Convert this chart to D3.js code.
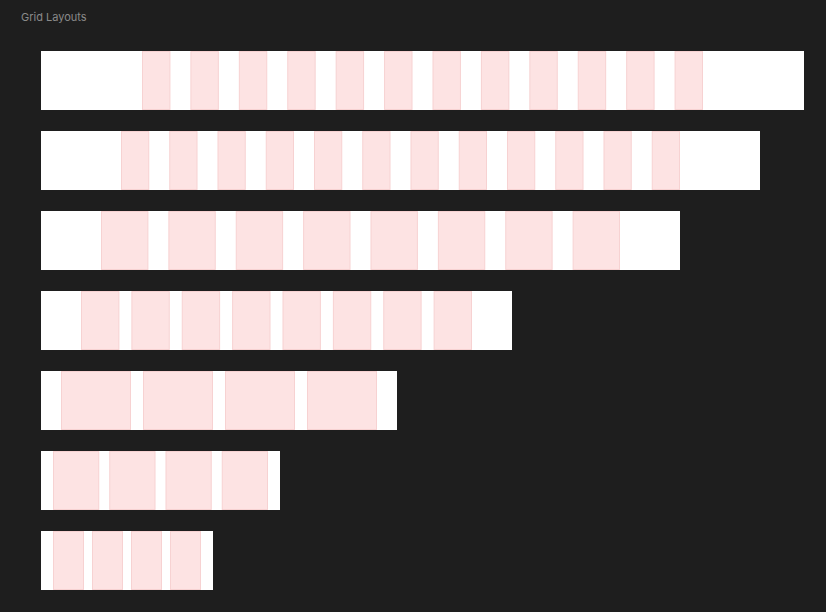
<!DOCTYPE html>
<html>
<head>
<meta charset="utf-8">
<script src="https://cdn.jsdelivr.net/npm/d3@7"></script>
<style>
body { margin: 0; background: #1e1e1e; }
</style>
</head>
<body>
<script>
// grid frames, top to bottom
const frameWidths = [763, 719, 639, 471, 356, 239, 172];
const columnCounts = [12, 12, 8, 8, 4, 4, 4];
const frameMargins = [101, 80, 60, 40, 20, 12, 12];
const gutters = [20, 20, 20, 12, 12, 10, 8];

const W = 826, H = 612;
const svg = d3.select("body").append("svg")
    .attr("width", W)
    .attr("height", H);

svg.append("rect").attr("width", W).attr("height", H).attr("fill", "#1e1e1e");

svg.append("text")
    .attr("x", 21).attr("y", 21)
    .attr("fill", "#8a8a8a")
    .attr("font-family", "Inter, 'Noto Sans', sans-serif")
    .attr("font-size", 11)
    .text("Grid Layouts");

const x = d3.scaleLinear().domain([0, 800]).range([41, 841]);
const y = d3.scaleBand().domain(d3.range(frameWidths.length)).range([51, 590]).paddingInner(21 / 80).paddingOuter(0).align(0);

const frames = svg.selectAll(".frame")
    .data(frameWidths.map((w, i) => ({ w, n: columnCounts[i], m: frameMargins[i], g: gutters[i], i })))
    .enter().append("g")
    .attr("class", "frame")
    .attr("transform", d => `translate(0,${y(d.i)})`);

frames.append("rect")
    .attr("x", x(0))
    .attr("width", d => x(d.w) - x(0))
    .attr("height", y.bandwidth())
    .attr("fill", "#ffffff");

frames.each(function (d) {
    const colW = (d.w - 2 * d.m - (d.n - 1) * d.g) / d.n;
    d3.select(this).selectAll(".col")
        .data(d3.range(d.n))
        .enter().append("rect")
        .attr("x", k => x(d.m + k * (colW + d.g)) + 0.5)
        .attr("y", 0.5)
        .attr("width", x(colW) - x(0) - 1)
        .attr("height", y.bandwidth() - 1)
        .attr("fill", "#fde3e3")
        .attr("stroke", "#f7d2d2")
        .attr("stroke-width", 1);
});
</script>
</body>
</html>
